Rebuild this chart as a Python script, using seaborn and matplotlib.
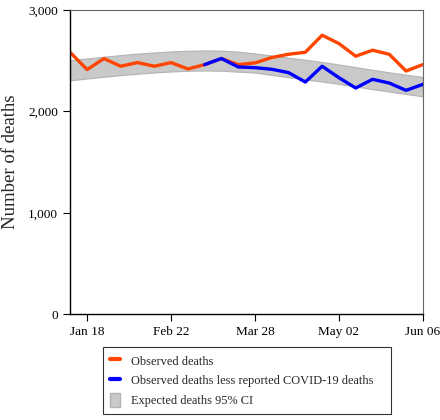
import numpy as np
import pandas as pd
import matplotlib
matplotlib.use("Agg")
import matplotlib.pyplot as plt
import matplotlib.dates as mdates
from matplotlib.ticker import FuncFormatter
from matplotlib.lines import Line2D
from matplotlib.patches import Patch
import seaborn as sns

# weekly data, week ending Jan 11 .. Jun 06 2020
week_start = "2020-01-11"
n_weeks = 22
observed = [2581, 2413, 2522, 2446, 2482, 2446, 2482, 2419, 2462, 2522, 2462,
            2479, 2532, 2564, 2584, 2752, 2670, 2545, 2604, 2564, 2399, 2462]
less_covid = [None] * 8 + [2462, 2522, 2439, 2432, 2416, 2383, 2290, 2446,
                           2333, 2231, 2317, 2280, 2208, 2267]
ci_upper = [2505, 2523, 2540, 2556, 2570, 2582, 2592, 2599, 2602, 2600, 2590,
            2572, 2552, 2530, 2510, 2488, 2463, 2437, 2411, 2386, 2362, 2340]
ci_lower = [2307, 2325, 2342, 2358, 2372, 2384, 2394, 2401, 2404, 2402, 2392,
            2383, 2360, 2338, 2316, 2295, 2272, 2246, 2220, 2196, 2172, 2149]
tick_dates = ["2020-01-18", "2020-02-22", "2020-03-28", "2020-05-02", "2020-06-06"]
legend_labels = ["Observed deaths",
                 "Observed deaths less reported COVID-19 deaths",
                 "Expected deaths 95% CI"]

sns.set_theme(style="white")
plt.rcParams["font.family"] = ["Liberation Serif", "DejaVu Serif"]

weeks = pd.date_range(week_start, periods=n_weeks, freq="7D")
df = pd.DataFrame({"week": weeks,
                   "observed": observed,
                   "less_covid": [np.nan if v is None else v for v in less_covid],
                   "lo": ci_lower, "hi": ci_upper})

orange = "#ff4500"
blue = "#0000ff"
band = "#c9c9c9"
band_edge = "#b3b3b3"

fig = plt.figure(figsize=(4.4, 4.2), dpi=100)
ax = fig.add_axes([0.159, 0.252, 0.802, 0.724])

#Expected band
ax.fill_between(df["week"], df["lo"], df["hi"], color=band, edgecolor=band_edge,
                linewidth=0.8, zorder=1)

sns.lineplot(data=df, x="week", y="observed", color=orange, linewidth=2.4, ax=ax, zorder=2)
sns.lineplot(data=df.dropna(), x="week", y="less_covid", color=blue, linewidth=2.4, ax=ax, zorder=3)

ax.set_ylim(0, 3000)
ax.set_xlim(pd.Timestamp("2020-01-10 20:00"), pd.Timestamp(tick_dates[-1]))
ax.set_yticks([0, 1000, 2000, 3000])
ax.yaxis.set_major_formatter(FuncFormatter(lambda v, p: f"{int(v):,}"))
ax.set_xticks(pd.to_datetime(tick_dates))
ax.xaxis.set_major_formatter(mdates.DateFormatter("%b %d"))
ax.tick_params(axis="both", which="major", direction="out", length=5, width=0.8,
               colors="black", labelsize=9.5, bottom=True, left=True)
ax.set_xlabel("")
ax.set_ylabel("Number of deaths", fontsize=13.5)
ax.yaxis.set_label_coords(-0.145, 0.5)

for side in ["left", "bottom"]:
    ax.spines[side].set_color("black")
    ax.spines[side].set_linewidth(1.0)
for side in ["top", "right"]:
    ax.spines[side].set_color("#666666")
    ax.spines[side].set_linewidth(0.8)

#Legend box below the plot, stretched to the reference width
handles = [Line2D([], [], color=orange, linewidth=3),
           Line2D([], [], color=blue, linewidth=3),
           Patch(facecolor=band, edgecolor=band_edge)]
leg = fig.legend(handles, legend_labels, loc="upper left",
                 bbox_to_anchor=(0.234, 0.0, 0.655, 0.174), mode="expand",
                 frameon=True, fancybox=False, edgecolor="black", fontsize=8.9,
                 handlelength=0.85, handleheight=1.4, handletextpad=0.85,
                 borderpad=0.55, labelspacing=0.42, borderaxespad=0)
leg.get_frame().set_linewidth(0.8)

fig.savefig("out.png", dpi=100)
